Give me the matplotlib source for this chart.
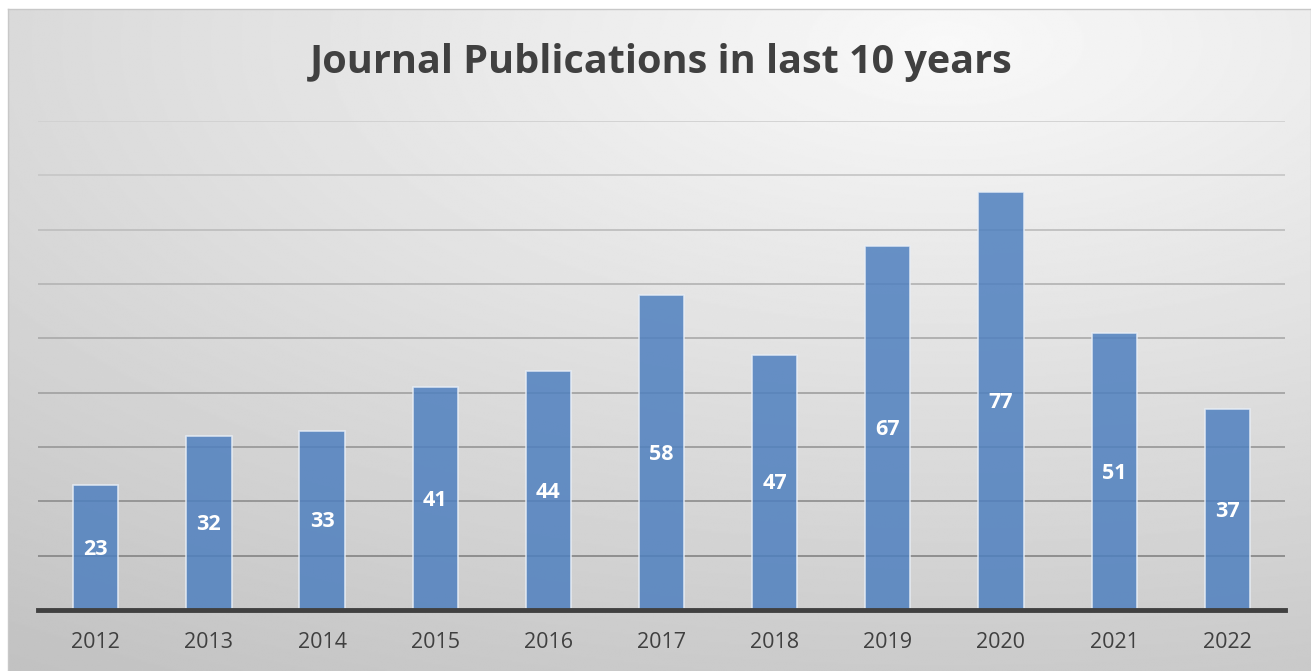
import matplotlib
matplotlib.use('Agg')
import matplotlib.pyplot as plt
import numpy as np

years = ['2012', '2013', '2014', '2015', '2016', '2017', '2018', '2019', '2020', '2021', '2022']
pubs = [23, 32, 33, 41, 44, 58, 47, 67, 77, 51, 37]
title = 'Journal Publications in last 10 years'

W, H = 1311, 671
fig = plt.figure(figsize=(W / 100, H / 100), dpi=100)
fig.patch.set_facecolor('white')

# 背景渐变 (radial, light near top centre)
bg = fig.add_axes([8 / W, 0, 1 - 8 / W, 1 - 9 / H])
gx, gy = np.meshgrid(np.linspace(0, 1, 800), np.linspace(0, 1, 400))
d = np.sqrt(((gx - 0.72) / 1.0) ** 2 + ((gy - 0.05) / 0.9) ** 2)
shade = np.clip(0.975 - 0.17 * d, 0.76, 1)
bg.imshow(shade, cmap='gray', vmin=0, vmax=1, aspect='auto', extent=[0, 1, 1, 0],
          interpolation='bilinear')
bg.set_xlim(0, 1)
bg.set_ylim(1, 0)
bg.set_xticks([])
bg.set_yticks([])
for s in bg.spines.values():
    s.set_color('#c8c8c8')
    s.set_linewidth(1)

ax = fig.add_axes([38 / W, 1 - 610 / H, (1285 - 38) / W, (610 - 121) / H])
ax.set_facecolor('none')
x = np.arange(len(years))
ax.set_xlim(-0.51, len(years) - 0.49)
ax.set_ylim(0, 90)

# gridlines, darker near the bottom
for v in range(10, 91, 10):
    g = 0.5 + 0.32 * (v / 90)
    ax.axhline(v, color=(g, g, g), lw=1.3, zorder=1)

ax.bar(x, pubs, width=0.4, color='#4f80bf', alpha=0.85, edgecolor='#e8eef6',
       linewidth=1.2, zorder=2)
for xi, v in zip(x, pubs):
    ax.text(xi, v / 2 - 0.3, str(v), ha='center', va='center', color='white',
            fontsize=15.5, fontweight='bold', family='Open Sans', zorder=3)

ax.axhline(0, color='#404040', lw=3.5, zorder=4, clip_on=False)
ax.set_xticks(x)
ax.set_xticklabels(years, fontsize=15.5, color='#404040', family='Open Sans')
ax.tick_params(axis='x', length=0, pad=16)
ax.set_yticks([])
for s in ax.spines.values():
    s.set_visible(False)

fig.text(661 / W, 1 - 62 / H, title, ha='center', va='center', fontsize=28.5,
         fontweight='bold', color='#404040', family='Open Sans')

fig.savefig('out.png', dpi=100)
